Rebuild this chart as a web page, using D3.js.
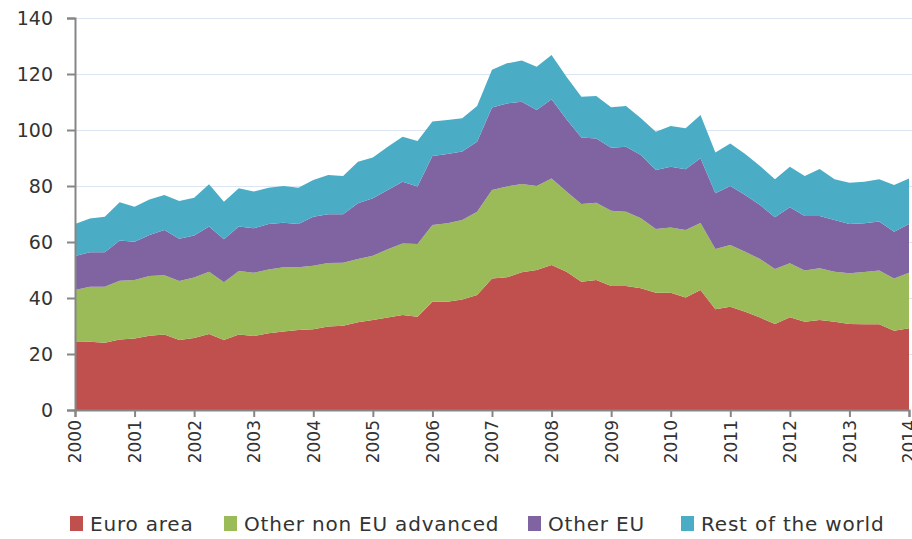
<!DOCTYPE html>
<html>
<head>
<meta charset="utf-8">
<script src="https://cdn.jsdelivr.net/npm/d3@7"></script>
<style>
  body { margin: 0; background: #fff; }
  text { font-family: "DejaVu Sans", Verdana, sans-serif; fill: #333; }
</style>
</head>
<body>
<script>
// Series (quarterly, 2000Q1 .. 2014Q1)
var euroArea = [24.3, 24.4, 24.0, 25.2, 25.5, 26.5, 27.0, 25.0, 25.7, 27.1, 25.0, 27.0,
  26.4, 27.4, 28.0, 28.6, 28.8, 29.8, 30.1, 31.3, 32.1, 33.0, 33.9, 33.3,
  38.7, 38.7, 39.5, 41.1, 47.0, 47.4, 49.2, 50.0, 51.8, 49.4, 45.8, 46.4,
  44.3, 44.3, 43.5, 41.9, 41.9, 40.2, 42.9, 36.0, 36.9, 35.1, 33.0, 30.7,
  33.1, 31.5, 32.1, 31.5, 30.7, 30.6, 30.6, 28.3, 29.2];
var otherNonEU = [18.6, 19.6, 20.0, 21.0, 20.9, 21.4, 21.1, 21.1, 21.6, 22.3, 20.6, 22.6,
  22.6, 22.8, 23.0, 22.4, 22.7, 22.7, 22.5, 22.6, 23.0, 24.4, 25.6, 26.0,
  27.4, 28.0, 28.4, 29.7, 31.6, 32.4, 31.5, 30.0, 30.9, 28.6, 27.8, 27.6,
  26.9, 26.5, 25.0, 22.7, 23.3, 24.1, 23.9, 21.5, 22.0, 21.4, 20.9, 19.7,
  19.3, 18.3, 18.5, 17.9, 18.1, 18.7, 19.2, 18.7, 19.8];
var otherEU = [12.1, 12.3, 12.3, 14.3, 13.7, 14.6, 16.2, 15.1, 15.0, 16.1, 15.4, 15.9,
  15.9, 16.2, 15.9, 15.4, 17.5, 17.4, 17.3, 19.9, 20.5, 21.2, 22.0, 20.5,
  24.6, 24.7, 24.4, 25.0, 29.4, 29.7, 29.4, 27.1, 28.3, 25.8, 23.7, 23.0,
  22.5, 23.2, 22.6, 21.1, 21.7, 21.7, 23.1, 19.9, 21.1, 20.3, 19.3, 18.4,
  20.0, 19.5, 18.7, 18.5, 17.6, 17.4, 17.5, 16.7, 17.4];
var restOfWorld = [11.4, 12.1, 12.7, 13.7, 12.5, 12.7, 12.5, 13.4, 13.5, 15.1, 13.4, 13.7,
  13.1, 13.0, 13.1, 13.0, 13.1, 14.0, 13.7, 14.9, 14.6, 15.4, 16.1, 16.3,
  12.3, 12.2, 11.9, 12.8, 13.5, 14.3, 14.7, 15.5, 15.8, 15.2, 14.6, 15.1,
  14.4, 14.6, 13.1, 13.7, 14.5, 14.6, 15.5, 14.6, 15.2, 14.6, 13.9, 13.6,
  14.5, 14.3, 16.8, 14.5, 14.8, 14.8, 15.1, 16.7, 16.3];

var seriesNames = ["Euro area", "Other non EU advanced", "Other EU", "Rest of the world"];
var seriesColors = ["#c0504d", "#9bbb59", "#8064a2", "#4bacc6"];
var yearTicks = d3.range(2000, 2015);
var valueTicks = d3.range(0, 141, 20);

// build rows for the stack
var rows = euroArea.map(function(v, i) {
  return {
    t: 2000 + i / 4,
    "Euro area": v,
    "Other non EU advanced": otherNonEU[i],
    "Other EU": otherEU[i],
    "Rest of the world": restOfWorld[i]
  };
});

var width = 912, height = 539;

var svg = d3.select("body").append("svg")
    .attr("width", width)
    .attr("height", height);

var x = d3.scaleLinear().domain([2000, 2014]).range([75, 909]);
var y = d3.scaleLinear().domain([0, 140]).range([410, 18]);

// gridlines
svg.append("g").attr("class", "grid")
  .selectAll("line")
    .data(valueTicks.filter(function(d) { return d > 0; }))
  .enter().append("line")
    .attr("x1", 75).attr("x2", width)
    .attr("y1", function(d) { return y(d) + 0.5; })
    .attr("y2", function(d) { return y(d) + 0.5; })
    .style("stroke", "#dce6f2")
    .style("stroke-width", 1);

// stacked areas
var stack = d3.stack().keys(seriesNames);
var area = d3.area()
    .x(function(d) { return x(d.data.t); })
    .y0(function(d) { return y(d[0]); })
    .y1(function(d) { return y(d[1]); });

svg.append("g").attr("class", "areas")
  .selectAll("path")
    .data(stack(rows))
  .enter().append("path")
    .attr("d", area)
    .style("fill", function(d, i) { return seriesColors[i]; });

// y axis
var yAxis = svg.append("g")
    .attr("transform", "translate(75,0)")
    .call(d3.axisLeft(y).tickValues(valueTicks).tickSize(8).tickPadding(14));
yAxis.selectAll("text").style("font-size", "19px");

// x axis
var xAxis = svg.append("g")
    .attr("transform", "translate(0,410)")
    .call(d3.axisBottom(x).tickValues(yearTicks).tickFormat(d3.format("d")).tickSize(7).tickPadding(8));
xAxis.selectAll("text")
    .style("font-size", "17px")
    .attr("transform", "rotate(-90)")
    .attr("x", -10)
    .attr("y", 0)
    .attr("dy", "0.35em")
    .style("text-anchor", "end");

svg.selectAll(".domain, .tick line")
    .style("stroke", "#868686")
    .style("stroke-width", 2);

// legend
var legendX = [70, 224, 528, 681];
var legend = svg.append("g").attr("class", "legend")
  .selectAll("g")
    .data(seriesNames)
  .enter().append("g")
    .attr("transform", function(d, i) { return "translate(" + legendX[i] + ",516)"; });

legend.append("rect")
    .attr("width", 13).attr("height", 15)
    .style("fill", function(d, i) { return seriesColors[i]; });

legend.append("text")
    .attr("x", 20).attr("y", 8)
    .attr("dy", "0.35em")
    .style("font-size", "20px")
    .style("letter-spacing", "0.8px")
    .text(function(d) { return d; });
</script>
</body>
</html>
